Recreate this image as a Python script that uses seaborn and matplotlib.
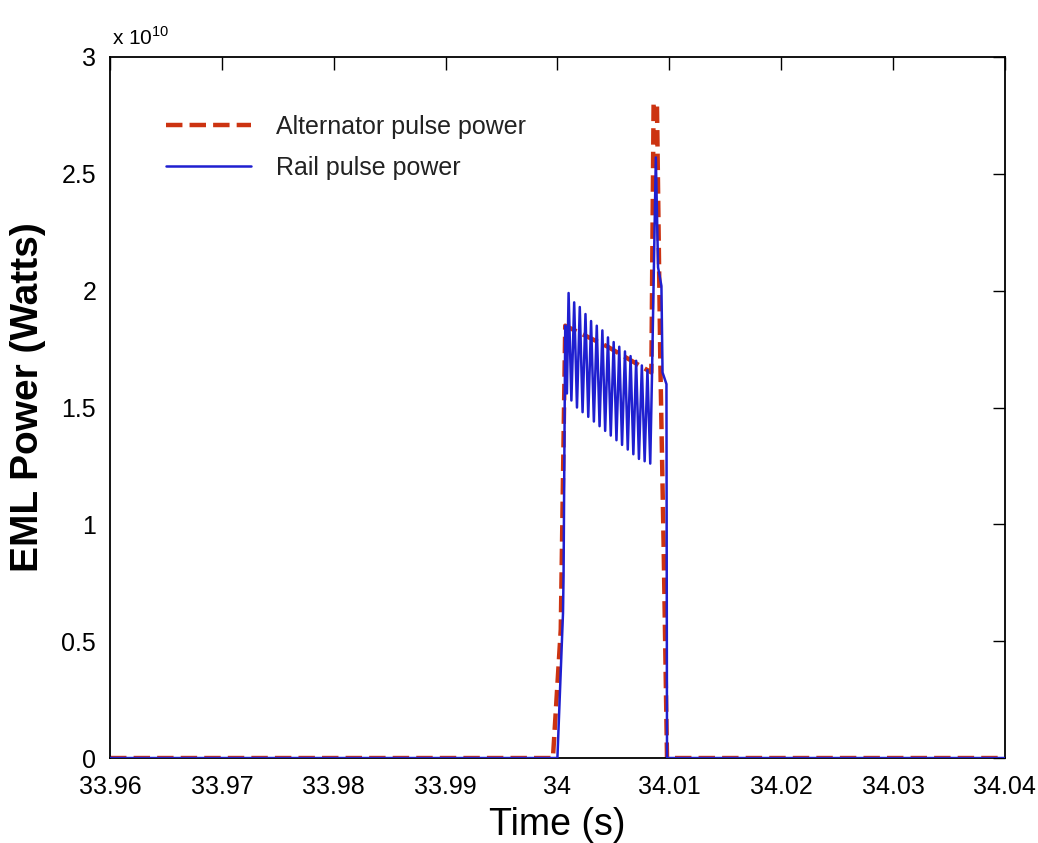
import matplotlib
matplotlib.use("Agg")
import matplotlib.pyplot as plt
import seaborn as sns
import pandas as pd

# ---- data (time in s, power in W) ----
alt_t = [33.96, 33.9996, 34.0003, 34.0007, 34.0045, 34.0084, 34.0086, 34.0089,
         34.0092, 34.0095, 34.0098, 34.04]
alt_p = [0, 0, 0.55e10, 1.85e10, 1.76e10, 1.65e10, 2.80e10, 2.80e10,
         1.70e10, 0.90e10, 0, 0]

rail_t = [33.96, 34.0000, 34.0005, 34.00055, 34.0007, 34.00085,
          34.00100, 34.00125, 34.00150, 34.00175, 34.00200, 34.00225,
          34.00251, 34.00276, 34.00301, 34.00326, 34.00352, 34.00377,
          34.00402, 34.00427, 34.00452, 34.00477, 34.00503, 34.00528,
          34.00553, 34.00578, 34.00604, 34.00629, 34.00654, 34.00679,
          34.00704, 34.00729, 34.00755, 34.00780, 34.00805, 34.00830,
          34.00845, 34.0088, 34.0090, 34.0093, 34.0094, 34.00975, 34.0098, 34.04]
rail_p = [0, 0, 0.62e10, 0.78e10, 1.85e10, 1.56e10,
          1.99e10, 1.53e10, 1.95e10, 1.50e10, 1.93e10, 1.48e10,
          1.90e10, 1.46e10, 1.87e10, 1.44e10, 1.85e10, 1.42e10,
          1.83e10, 1.40e10, 1.80e10, 1.38e10, 1.78e10, 1.36e10,
          1.76e10, 1.34e10, 1.74e10, 1.32e10, 1.72e10, 1.30e10,
          1.70e10, 1.28e10, 1.68e10, 1.27e10, 1.66e10, 1.26e10,
          1.62e10, 2.57e10, 2.10e10, 2.02e10, 1.65e10, 1.60e10, 0, 0]

x_ticks = [33.96, 33.97, 33.98, 33.99, 34.00, 34.01, 34.02, 34.03, 34.04]
x_labels = ["33.96", "33.97", "33.98", "33.99", "34", "34.01", "34.02", "34.03", "34.04"]
y_ticks = [0, 0.5e10, 1.0e10, 1.5e10, 2.0e10, 2.5e10, 3.0e10]
y_labels = ["0", "0.5", "1", "1.5", "2", "2.5", "3"]

sns.set_theme(style="white")
plt.rcParams["font.family"] = ["Liberation Sans", "DejaVu Sans"]
plt.rcParams["mathtext.fontset"] = "custom"
plt.rcParams["mathtext.rm"] = "Liberation Sans"

df_alt = pd.DataFrame({"t": alt_t, "p": alt_p})
df_rail = pd.DataFrame({"t": rail_t, "p": rail_p})

fig = plt.figure(figsize=(10.38, 8.43), dpi=100)
fig.patch.set_facecolor("white")
ax = fig.add_axes([0.106, 0.1008, 0.862, 0.8316])

sns.lineplot(data=df_alt, x="t", y="p", ax=ax, sort=False, estimator=None,
             color="#cc3311", linewidth=3.2, linestyle="--",
             label="Alternator pulse power", zorder=2)
sns.lineplot(data=df_rail, x="t", y="p", ax=ax, sort=False, estimator=None,
             color="#1f1fd0", linewidth=1.8, label="Rail pulse power", zorder=3)

ax.set_xlim(33.96, 34.04)
ax.set_ylim(0, 3e10)
ax.set_xticks(x_ticks)
ax.set_xticklabels(x_labels)
ax.set_yticks(y_ticks)
ax.set_yticklabels(y_labels)

ax.tick_params(direction="in", length=9, width=1, colors="black",
               top=True, right=True, labelsize=18)
ax.tick_params(axis="x", pad=12)
ax.tick_params(axis="y", pad=10)
for s in ax.spines.values():
    s.set_color("black")
    s.set_linewidth(1.3)

ax.set_xlabel("Time (s)", fontsize=27, color="black", labelpad=6)
ax.set_ylabel("EML Power (Watts)", fontsize=28, fontweight="bold",
              color="black")
ax.yaxis.set_label_coords(-0.072, 0.515)

ax.text(0.002, 1.012, r"x 10$^{10}$", transform=ax.transAxes,
        fontsize=15, ha="left", va="bottom", color="black")

leg = ax.legend(loc="upper left", bbox_to_anchor=(0.051, 0.932), frameon=False,
                fontsize=18, handlelength=3.4, handletextpad=1.0,
                labelspacing=0.7, borderaxespad=0)
for txt in leg.get_texts():
    txt.set_color("#222222")

fig.savefig("out.png", dpi=100, facecolor="white")
